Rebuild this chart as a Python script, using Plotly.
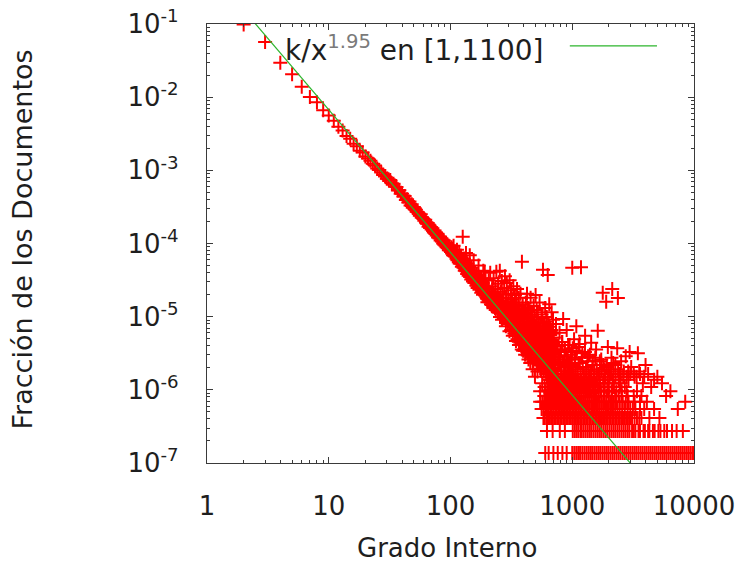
import plotly.graph_objects as go

# In-degree distribution: number of documents that have each in-degree.
N_DOCS = 7_300_000

# Low degrees (one point per degree, close to the power law)
LOW_DEG = [2, 3, 4, 5, 6, 7, 8, 9, 10,
           11, 12, 13, 14, 15, 16, 17, 18, 19, 20,
           21, 22, 23, 24, 25, 26, 27, 28, 29, 30,
           31, 32, 33, 34, 35, 36, 37, 38, 39, 40,
           41, 42, 43, 44, 45, 46, 47, 48, 49, 50,
           51, 52, 53, 54, 55, 56, 57, 58, 59, 60,
           61, 62, 63, 64, 65, 66, 67, 68, 69, 70,
           71, 72, 73, 74, 75, 76, 77, 78, 79, 80,
           81, 82, 83, 84, 85, 86, 87, 88, 89, 90,
           91, 92, 93, 94, 95, 96, 97, 98, 99]
LOW_CNT = [720000, 415000, 215000, 150000, 101000, 73500, 62000, 48500, 41000,
           34800, 28800, 25500, 21500, 19700, 16900, 15600, 13500, 12800, 11300,
           10600, 9900, 8950, 8530, 7720, 7380, 6800, 6320, 6020, 5600,
           5530, 5390, 4860, 4780, 4350, 4310, 3880, 3900, 3490, 3500,
           3200, 3260, 2860, 2940, 2650, 2740, 2410, 2510, 2240, 2300,
           2130, 2110, 1980, 1950, 1860, 1750, 1830, 1650, 1630, 1580,
           1490, 1540, 1400, 1360, 1390, 1240, 1300, 1190, 1230, 1130,
           1180, 1080, 1040, 1100, 990, 1030, 940, 990, 880, 920,
           860, 900, 800, 860, 780, 820, 730, 800, 700, 740,
           680, 750, 650, 700, 630, 680, 590, 660, 600]

# Degrees 100-200
MID_DEG = [100, 101, 102, 103, 104, 105, 106, 107, 108, 109,
           110, 111, 112, 113, 114, 115, 116, 117, 118, 119,
           120, 121, 122, 123, 124, 125, 126, 127, 128, 129,
           130, 131, 132, 133, 134, 135, 136, 137, 138, 139,
           140, 141, 142, 143, 144, 145, 146, 147, 148, 149,
           150, 151, 152, 153, 154, 155, 156, 157, 158, 159,
           160, 161, 162, 163, 164, 165, 166, 167, 168, 169,
           170, 171, 172, 173, 174, 175, 176, 177, 178, 179,
           180, 181, 182, 183, 184, 185, 186, 187, 188, 189,
           190, 191, 192, 193, 194, 195, 196, 197, 198, 199, 200]
MID_CNT = [610, 560, 650, 535, 590, 505, 680, 495, 535, 570,
           480, 525, 450, 600, 430, 495, 455, 405, 545, 390,
           440, 385, 495, 395, 350, 430, 900, 375, 340, 450,
           360, 310, 405, 325, 540, 305, 365, 280, 390, 300,
           325, 265, 350, 290, 505, 255, 310, 280, 235, 340,
           275, 240, 300, 220, 265, 430, 235, 210, 280, 230,
           245, 260, 215, 195, 275, 230, 195, 180, 230, 260,
           365, 200, 190, 170, 215, 240, 175, 190, 245, 155,
           180, 220, 165, 175, 210, 145, 310, 195, 155, 160,
           180, 300, 145, 155, 230, 180, 150, 135, 170, 160, 130]

# Degrees 200-400
UPPER_DEG = [201, 202, 204, 206, 208, 210, 212, 214, 215, 216, 218, 220,
             222, 224, 225, 226, 228, 230, 232, 234, 235, 236, 238, 240,
             242, 244, 245, 246, 248, 250, 252, 254, 255, 256, 258, 260,
             262, 264, 265, 266, 268, 270, 272, 274, 275, 276, 278, 280,
             282, 284, 285, 286, 288, 290, 292, 294, 295, 296, 298, 300,
             302, 304, 305, 306, 308, 310, 312, 314, 315, 316, 318, 320,
             322, 324, 325, 326, 328, 330, 332, 334, 335, 336, 338, 340,
             342, 344, 345, 346, 348, 350, 352, 354, 355, 356, 358, 360,
             362, 364, 365, 366, 368, 370, 372, 374, 375, 376, 378, 380,
             382, 384, 385, 386, 388, 390, 392, 394, 395, 396, 398, 400]
UPPER_CNT = [115, 180, 125, 230, 145, 115, 290, 130, 108, 155, 105, 190,
             120, 150, 100, 245, 110, 140, 96, 175, 90, 118, 300, 108,
             145, 92, 84, 205, 115, 132, 84, 310, 72, 102, 160, 86,
             120, 225, 66, 80, 145, 96, 114, 70, 72, 180, 90, 260,
             105, 72, 54, 132, 84, 210, 77, 108, 58, 62, 150, 82,
             98, 66, 46, 230, 72, 114, 58, 168, 48, 84, 67, 126,
             54, 96, 40, 74, 190, 60, 106, 48, 43, 79, 144, 55,
             90, 43, 34, 114, 62, 72, 175, 50, 36, 84, 41, 102,
             58, 132, 30, 46, 70, 36, 86, 53, 32, 150, 40, 77,
             48, 34, 26, 410, 66, 43, 108, 31, 25, 58, 82, 37]

# Degrees 400-700
HIGH_DEG = [401, 402, 404, 405, 407, 408, 410, 411, 413, 414, 416, 417,
            419, 420, 422, 423, 425, 426, 428, 429, 431, 432, 434, 435,
            437, 438, 440, 441, 443, 444, 446, 447, 449, 450, 452, 453,
            455, 456, 458, 459, 461, 462, 464, 465, 467, 468, 470, 471,
            473, 474, 476, 477, 479, 480, 482, 483, 485, 486, 488, 489,
            491, 492, 494, 495, 497, 498, 500, 501, 503, 504, 506, 507,
            509, 510, 512, 513, 515, 516, 518, 519, 521, 522, 524, 525,
            527, 528, 530, 531, 533, 534, 536, 537, 539, 540, 542, 543,
            545, 546, 548, 549, 551, 552, 554, 555, 557, 558, 560, 561,
            563, 564, 566, 567, 569, 570, 572, 573, 575, 576, 578, 579,
            581, 582, 584, 585, 587, 588, 590, 591, 593, 594, 596, 597,
            599, 600, 602, 603, 605, 606, 608, 609, 611, 612, 614, 615,
            617, 618, 620, 621, 623, 624, 626, 627, 629, 630, 632, 633,
            635, 636, 638, 639, 641, 642, 644, 645, 647, 648, 650, 651,
            653, 654, 656, 657, 659, 660, 662, 663, 665, 666, 668, 669,
            671, 672, 674, 675, 677, 678, 680, 681, 683, 684, 686, 687,
            689, 690, 692, 693, 695, 696, 698, 699]
HIGH_CNT = [54, 42, 26, 58, 72, 31, 22, 84, 41, 36, 114, 50,
            30, 25, 48, 70, 150, 40, 24, 29, 62, 96, 34, 43,
            19, 32, 90, 60, 37, 23, 28, 46, 53, 35, 17, 78,
            132, 25, 31, 41, 44, 54, 23, 20, 74, 34, 29, 62,
            14, 28, 58, 43, 36, 18, 102, 50, 20, 31, 25, 72,
            48, 24, 11, 37, 31, 19, 144, 53, 23, 29, 40, 42,
            18, 90, 66, 22, 26, 32, 13, 48, 84, 17, 34, 37,
            20, 25, 46, 60, 16, 30, 29, 19, 114, 43, 19, 24,
            7, 34, 54, 14, 24, 50, 36, 26, 14, 20, 78, 40,
            22, 30, 9, 70, 32, 18, 17, 25, 320, 48, 42, 22,
            13, 16, 26, 35, 60, 28, 18, 54, 8, 19, 34, 24,
            96, 42, 16, 13, 23, 31, 50, 20, 12, 62, 30, 25,
            72, 17, 11, 37, 19, 23, 41, 29, 270, 12, 14, 46,
            26, 19, 6, 32, 58, 16, 17, 24, 108, 53, 22, 18,
            10, 28, 36, 14, 13, 41, 24, 22, 46, 31, 7, 11,
            18, 25, 29, 48, 84, 17, 12, 23, 20, 36, 5, 13,
            34, 26, 14, 19, 66, 43, 11, 16]

# Sparse tail: degrees above 700 with more than ten documents
TAIL_DEG = [705, 712, 722, 735, 748, 760, 772, 786, 800, 815,
            828, 842, 856, 870, 885, 900, 918, 935, 952, 970,
            990, 1000, 1012, 1035, 1058, 1080, 1105, 1130, 1155, 1180,
            1210, 1240, 1275, 1310, 1350, 1390, 1430, 1475, 1520, 1570,
            1620, 1675, 1730, 1780, 1850, 1900, 1960, 2030, 2100, 2130,
            2180, 2260, 2340, 2370, 2430, 2520, 2620, 2750, 2880, 2960,
            3050, 3200, 3380, 3460, 3600, 3800, 4000, 4200, 4450, 4700,
            5000, 5460, 5900, 6400, 7360, 8470]
TAIL_CNT = [38, 14, 22, 58, 12, 29, 17, 44, 21, 11,
            33, 68, 15, 26, 12, 48, 19, 13, 30, 16,
            24, 340, 12, 36, 20, 54, 14, 28, 17, 345,
            23, 12, 40, 15, 21, 11, 32, 18, 13, 26,
            47, 12, 19, 155, 14, 117, 28, 11, 20, 175,
            13, 16, 27, 131, 12, 18, 11, 21, 13, 24,
            15, 12, 11, 23, 12, 9, 16, 12, 8, 10,
            11, 9, 6, 7, 4, 5]

# Further tail degrees with 11-35 documents
TAIL2_DEG = [585, 598, 612, 628, 642, 655, 668, 682, 695, 708,
             720, 733, 745, 758, 770, 783, 797, 810, 825, 838,
             852, 866, 880, 895, 910, 925, 942, 958, 975, 993,
             1010, 1028, 1046, 1065, 1085, 1105, 1126, 1148, 1170, 1195,
             1220, 1245, 1272, 1300, 1330, 1360, 1395, 1430, 1465, 1505,
             1545, 1590, 1635, 1685, 1740, 1795, 1860, 1925, 2000, 2080,
             2170, 2270, 2380, 2500, 2650, 2800, 3000, 3250, 3550, 3900]
TAIL2_CNT = [28, 15, 22, 34, 13, 19, 26, 12, 31, 17,
             23, 14, 29, 12, 20, 16, 25, 13, 33, 18,
             11, 24, 15, 21, 13, 30, 17, 12, 22, 15,
             27, 11, 19, 14, 25, 13, 17, 31, 12, 20,
             15, 11, 24, 14, 18, 12, 22, 13, 16, 11,
             20, 14, 12, 18, 13, 16, 11, 15, 13, 12,
             17, 11, 14, 12, 13, 11, 12, 11, 13, 11]

# Degrees shared by exactly c documents (c = 1 ... 10)
DEG_C1 = [600, 640, 700, 760, 830, 900,
          1000, 1040, 1080, 1120, 1160, 1210, 1260, 1310, 1360, 1410,
          1460, 1520, 1580, 1640, 1700, 1770, 1840, 1910, 1980, 2060,
          2140, 2220, 2310, 2400, 2490, 2590, 2690, 2790, 2900, 3010,
          3130, 3250, 3370, 3500, 3640, 3780, 3930, 4080, 4240, 4400,
          4570, 4750, 4930, 5120, 5320, 5530, 5740, 5960, 6190, 6430,
          6680, 6940, 7210, 7490, 7780, 8080, 8390, 8720, 9050, 9400,
          9760, 9950]
DEG_C2 = [620, 690, 790, 870,
          1010, 1050, 1090, 1130, 1180, 1230, 1280, 1330, 1380, 1430,
          1490, 1550, 1610, 1670, 1730, 1800, 1870, 1940, 2020, 2100,
          2180, 2260, 2350, 2440, 2540, 2640, 2740, 2850, 2950,
          3100, 3200, 3300, 3500, 3600, 3850, 3950, 4200, 4300, 4600,
          4750, 5100, 5300, 5700, 6000, 6600, 7200, 8100]
DEG_C3 = [580, 595, 615, 632, 650, 670, 690, 710, 730, 752, 775, 797,
          820, 845, 870, 895, 920, 947, 975, 1005, 1035, 1065, 1095, 1128,
          1160, 1195, 1230, 1265, 1300, 1340, 1380, 1420, 1460, 1505, 1550,
          1595, 1640, 1690, 1740, 1790, 1840, 1895, 1950, 2010, 2070, 2130,
          2190, 2255, 2320, 2390, 2460, 2535, 2610, 2690, 2770, 2850, 2930,
          3020, 3100, 3250, 3400, 3550, 3700, 4300, 5200]
DEG_C4 = [560, 580, 600, 620, 640, 660, 680, 702, 725, 747, 770, 792,
          815, 840, 865, 890, 915, 942, 970, 1000, 1030, 1060, 1090, 1125,
          1160, 1195, 1230, 1265, 1300, 1345, 1390, 1435, 1480, 1525, 1570,
          1625, 1680, 1740, 1800, 1865, 1930, 2000, 2080, 2160, 2250, 2350,
          2450, 2570, 2700, 2850, 3000, 3150, 3300, 3600, 3900, 4700]
DEG_C5 = [545, 567, 590, 610, 630, 648, 665, 688, 710, 735, 760, 785,
          810, 835, 860, 890, 920, 952, 985, 1018, 1050, 1085, 1120, 1160,
          1200, 1245, 1290, 1335, 1380, 1435, 1490, 1550, 1610, 1680, 1750,
          1825, 1900, 1990, 2080, 2190, 2300, 2450, 2600, 2750, 2900, 3250,
          3600, 4100]
DEG_C6 = [590, 610, 632, 655, 680, 705, 725, 745, 770, 795, 822, 850,
          877, 905, 932, 960, 995, 1030, 1070, 1110, 1150, 1190, 1235, 1280,
          1335, 1390, 1450, 1510, 1580, 1650, 1735, 1820, 1910, 2000, 2120,
          2250, 2400, 2550, 2850, 3200, 3700]
DEG_C7 = [600, 625, 652, 680, 700, 720, 755, 790, 815, 840, 870, 900,
          927, 955, 987, 1020, 1060, 1100, 1145, 1190, 1245, 1300, 1360,
          1420, 1490, 1560, 1640, 1720, 1830, 1950, 2100, 2300, 2550, 2800,
          3400]
DEG_C8 = [625, 650, 675, 700, 725, 750, 775, 800, 840, 880, 910, 940,
          975, 1010, 1045, 1080, 1125, 1170, 1220, 1270, 1335, 1400, 1470,
          1540, 1620, 1700, 1850, 2000, 2200, 2450, 2700]
DEG_C9 = [640, 670, 700, 730, 755, 780, 805, 830, 865, 900, 940, 980,
          1020, 1060, 1105, 1150, 1205, 1260, 1320, 1380, 1465, 1550, 1670,
          1800, 1950, 2150, 2500]
DEG_C10 = [660, 690, 715, 740, 775, 810, 840, 870, 910, 950, 995, 1040,
           1085, 1130, 1185, 1240, 1300, 1360, 1430, 1500, 1590, 1680, 1800,
           1950, 2150, 2400, 2900]

# Power-law fit k/x^1.95
FIT_K = 0.6
FIT_EXP = 1.95
FIT_X = [1, 10000]

X_TICKS = [1, 10, 100, 1000, 10000]
X_TICKTEXT = ["1", "10", "100", "1000", "10000"]
Y_TICKS = [1e-7, 1e-6, 1e-5, 1e-4, 1e-3, 1e-2, 1e-1]
Y_TICKTEXT = ["10<sup>-7</sup>", "10<sup>-6</sup>", "10<sup>-5</sup>",
              "10<sup>-4</sup>", "10<sup>-3</sup>", "10<sup>-2</sup>",
              "10<sup>-1</sup>"]

# ---- assemble the point cloud ----
pairs = [(LOW_DEG, LOW_CNT), (MID_DEG, MID_CNT), (UPPER_DEG, UPPER_CNT),
         (HIGH_DEG, HIGH_CNT), (TAIL_DEG, TAIL_CNT), (TAIL2_DEG, TAIL2_CNT)]
deg, cnt = [], []
for d, c in pairs:
    assert len(d) == len(c), (d[0], len(d), len(c))
    deg += d
    cnt += c
for c, lst in enumerate([DEG_C1, DEG_C2, DEG_C3, DEG_C4, DEG_C5, DEG_C6,
                         DEG_C7, DEG_C8, DEG_C9, DEG_C10], start=1):
    deg += lst
    cnt += [c] * len(lst)
frac = [c / N_DOCS for c in cnt]

fit_y = [FIT_K / x ** FIT_EXP for x in FIT_X]

FONT = "DejaVu Sans"
INK = "#1e1e1e"
FRAME = "#3a3a3a"
RED = "#ff0000"
GREEN = "#2cb52c"

fig = go.Figure()
fig.add_trace(go.Scatter(
    x=deg, y=frac, mode="markers",
    marker=dict(symbol="cross-thin", size=10,
                line=dict(color=RED, width=2)),
    showlegend=False, hoverinfo="skip"))
fig.add_trace(go.Scatter(
    x=FIT_X, y=fit_y, mode="lines",
    line=dict(color=GREEN, width=1.2),
    showlegend=False, hoverinfo="skip"))

axis_common = dict(
    type="log", showgrid=False, zeroline=False,
    showline=True, linecolor=FRAME, linewidth=1.3, mirror="allticks",
    ticks="inside", ticklen=6, tickwidth=1.1, tickcolor=FRAME,
    minor=dict(ticks="inside", ticklen=3, tickwidth=1, tickcolor=FRAME,
               dtick="D1", showgrid=False),
)

fig.update_xaxes(**axis_common, range=[0, 4], tickvals=X_TICKS,
                 ticktext=X_TICKTEXT, ticklabelstandoff=20,
                 tickfont=dict(family=FONT, size=26, color=INK))
fig.update_yaxes(**axis_common, range=[-7, -1], tickvals=Y_TICKS,
                 ticktext=Y_TICKTEXT, ticklabelstandoff=22,
                 tickfont=dict(family=FONT, size=26, color=INK))

# key: text on the left, line sample on the right
fig.add_annotation(
    x=(545 - 207) / 487, y=0.945, xref="paper", yref="paper",
    xanchor="right", yanchor="middle", showarrow=False,
    text='k/x<sup><span style="color:#7a7a7a">1.95</span></sup> en [1,1100]',
    font=dict(family=FONT, size=28, color=INK))
fig.add_shape(type="line", xref="paper", yref="paper",
              x0=0.745, x1=0.924, y0=0.95, y1=0.95,
              line=dict(color=GREEN, width=1.3))

# axis titles
fig.add_annotation(
    x=0.5 - 4 / 487, y=-85 / 439, xref="paper", yref="paper",
    xanchor="center", yanchor="middle", showarrow=False,
    text="Grado Interno", font=dict(family=FONT, size=26, color=INK))
fig.add_annotation(
    x=-185 / 487, y=0.5 + 4 / 439, xref="paper", yref="paper",
    xanchor="center", yanchor="middle", showarrow=False, textangle=-90,
    text="Fracción de los Documentos",
    font=dict(family=FONT, size=27, color=INK))

fig.update_layout(
    width=738, height=564,
    margin=dict(l=207, r=44, t=24, b=101, autoexpand=False),
    paper_bgcolor="white", plot_bgcolor="white",
    showlegend=False,
)

fig.write_html("out.html")
